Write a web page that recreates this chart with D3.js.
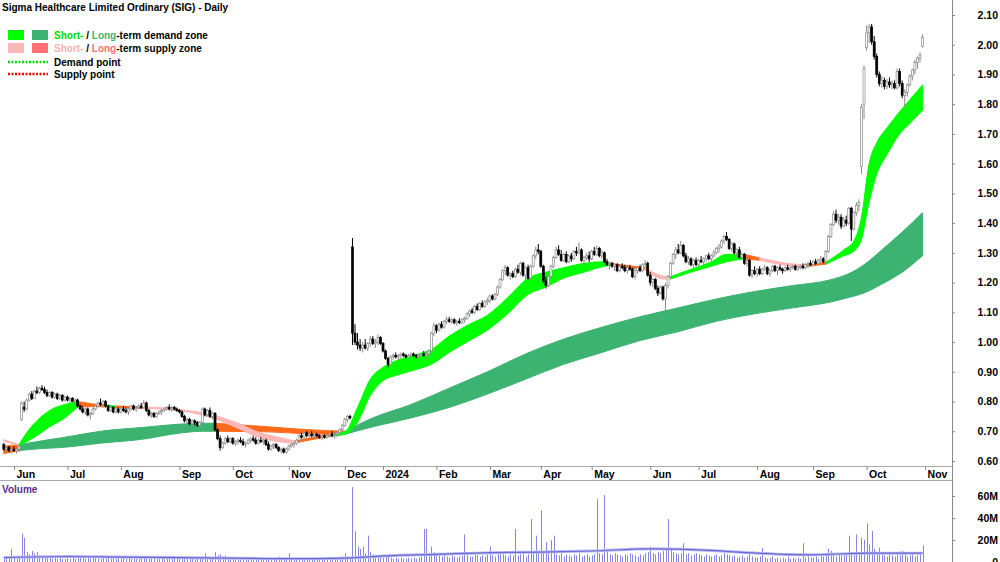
<!DOCTYPE html>
<html>
<head>
<meta charset="utf-8">
<script src="https://cdn.jsdelivr.net/npm/d3@7"></script>
<style>
  body { margin: 0; background: #fff; }
  svg { display: block; font-family: "Liberation Sans", Arial, sans-serif; }
</style>
</head>
<body>
<script>
// month ticks (trading-day index where each month starts)
const monthLabels = ["Jun", "Jul", "Aug", "Sep", "Oct", "Nov", "Dec", "2024", "Feb", "Mar", "Apr", "May", "Jun", "Jul", "Aug", "Sep", "Oct", "Nov"];
const monthStart = [4, 25, 46, 69, 90, 112, 134, 149, 170, 191, 211, 231, 254, 273, 296, 318, 339, 362];

const priceTicks = [0.6, 0.7, 0.8, 0.9, 1.0, 1.1, 1.2, 1.3, 1.4, 1.5, 1.6, 1.7, 1.8, 1.9, 2.0, 2.1];
const volumeTicks = [0, 20, 40, 60];

// daily candles [open, high, low, close]
const ohlc = [
  // May 2023
  [0.655,0.66,0.635,0.64],[0.64,0.65,0.63,0.645],[0.645,0.65,0.63,0.635],[0.635,0.645,0.625,0.64],
  // Jun
  [0.64,0.65,0.63,0.635],[0.635,0.645,0.625,0.64],[0.64,0.655,0.63,0.65],[0.74,0.80,0.735,0.795],[0.78,0.80,0.765,0.775],
  [0.775,0.81,0.77,0.805],[0.805,0.83,0.80,0.825],[0.825,0.835,0.805,0.81],[0.81,0.84,0.81,0.835],[0.835,0.85,0.825,0.83],
  [0.83,0.85,0.825,0.845],[0.845,0.855,0.835,0.84],[0.84,0.85,0.825,0.83],[0.83,0.84,0.815,0.82],[0.82,0.835,0.815,0.83],
  [0.83,0.835,0.81,0.815],[0.815,0.83,0.81,0.825],[0.825,0.83,0.805,0.81],[0.81,0.825,0.805,0.82],[0.82,0.825,0.80,0.805],
  [0.805,0.82,0.80,0.815],
  // Jul
  [0.815,0.82,0.80,0.805],[0.805,0.815,0.795,0.81],[0.81,0.815,0.80,0.80],[0.80,0.81,0.795,0.805],[0.805,0.81,0.78,0.785],
  [0.785,0.79,0.77,0.775],[0.775,0.785,0.76,0.765],[0.765,0.78,0.755,0.775],[0.775,0.78,0.75,0.755],[0.755,0.765,0.74,0.76],
  [0.76,0.78,0.755,0.775],[0.775,0.79,0.77,0.785],[0.785,0.80,0.78,0.795],[0.795,0.81,0.785,0.79],[0.79,0.805,0.78,0.80],
  [0.80,0.805,0.78,0.785],[0.785,0.79,0.765,0.77],[0.77,0.785,0.765,0.78],[0.78,0.785,0.76,0.765],[0.765,0.78,0.76,0.775],
  [0.775,0.78,0.76,0.765],
  // Aug
  [0.765,0.78,0.76,0.775],[0.775,0.785,0.765,0.77],[0.77,0.78,0.76,0.765],[0.765,0.78,0.755,0.775],[0.775,0.79,0.77,0.785],
  [0.785,0.79,0.77,0.775],[0.775,0.785,0.765,0.78],[0.78,0.79,0.775,0.785],[0.785,0.795,0.775,0.78],[0.78,0.805,0.775,0.795],
  [0.795,0.80,0.765,0.77],[0.77,0.775,0.75,0.755],[0.755,0.765,0.745,0.76],[0.76,0.765,0.745,0.75],[0.75,0.765,0.745,0.76],
  [0.76,0.77,0.755,0.765],[0.765,0.775,0.755,0.77],[0.77,0.78,0.765,0.775],[0.775,0.785,0.77,0.78],[0.78,0.79,0.77,0.775],
  [0.775,0.785,0.765,0.78],[0.78,0.785,0.77,0.775],[0.775,0.78,0.765,0.77],
  // Sep
  [0.77,0.775,0.76,0.765],[0.765,0.77,0.745,0.75],[0.75,0.755,0.73,0.735],[0.735,0.745,0.725,0.74],[0.74,0.745,0.72,0.725],
  [0.725,0.74,0.72,0.735],[0.735,0.74,0.72,0.73],[0.73,0.735,0.715,0.72],[0.72,0.735,0.715,0.73],[0.73,0.78,0.725,0.775],
  [0.775,0.78,0.75,0.755],[0.755,0.775,0.75,0.77],[0.77,0.78,0.745,0.75],[0.75,0.765,0.74,0.76],[0.76,0.765,0.70,0.705],
  [0.705,0.71,0.67,0.675],[0.675,0.685,0.635,0.645],[0.645,0.665,0.64,0.66],[0.66,0.68,0.655,0.675],[0.675,0.685,0.66,0.665],
  [0.665,0.68,0.66,0.675],
  // Oct
  [0.675,0.68,0.655,0.66],[0.66,0.67,0.65,0.665],[0.665,0.675,0.655,0.67],[0.67,0.68,0.66,0.665],[0.665,0.675,0.65,0.655],
  [0.655,0.665,0.645,0.66],[0.66,0.675,0.655,0.67],[0.67,0.68,0.66,0.675],[0.675,0.685,0.665,0.67],[0.67,0.68,0.655,0.66],
  [0.66,0.675,0.655,0.67],[0.67,0.68,0.66,0.665],[0.665,0.675,0.655,0.67],[0.67,0.675,0.65,0.655],[0.655,0.665,0.635,0.64],
  [0.64,0.655,0.635,0.65],[0.65,0.66,0.64,0.655],[0.655,0.66,0.64,0.645],[0.645,0.65,0.63,0.635],[0.635,0.645,0.625,0.64],
  [0.64,0.645,0.625,0.63],[0.63,0.645,0.625,0.64],
  // Nov
  [0.64,0.655,0.635,0.65],[0.65,0.66,0.645,0.655],[0.655,0.665,0.645,0.66],[0.66,0.675,0.655,0.67],[0.67,0.69,0.665,0.685],
  [0.685,0.695,0.675,0.68],[0.68,0.70,0.675,0.695],[0.695,0.70,0.68,0.685],[0.685,0.695,0.68,0.69],[0.69,0.70,0.68,0.685],
  [0.685,0.695,0.675,0.69],[0.69,0.695,0.68,0.685],[0.685,0.69,0.675,0.68],[0.68,0.69,0.67,0.685],[0.685,0.69,0.675,0.68],
  [0.68,0.69,0.675,0.685],[0.685,0.695,0.68,0.69],[0.69,0.70,0.68,0.685],[0.685,0.695,0.675,0.69],[0.69,0.70,0.68,0.695],
  [0.695,0.71,0.69,0.705],[0.705,0.725,0.70,0.72],
  // Dec
  [0.72,0.745,0.715,0.74],[0.74,0.755,0.73,0.75],[0.75,0.755,0.74,0.745],[1.32,1.35,0.99,1.03],[1.03,1.06,0.99,1.00],
  [1.00,1.03,0.975,0.99],[0.99,1.01,0.97,0.98],[0.98,1.00,0.965,0.99],[0.99,1.01,0.975,0.98],[0.98,1.00,0.97,0.995],
  [0.995,1.02,0.985,1.01],[1.01,1.02,0.99,0.995],[0.995,1.01,0.98,1.00],[1.00,1.025,0.99,1.015],[1.015,1.02,0.99,0.995],
  // Jan 2024
  [0.995,1.00,0.965,0.97],[0.97,0.975,0.94,0.945],[0.945,0.95,0.915,0.925],[0.925,0.955,0.92,0.95],[0.95,0.96,0.94,0.955],
  [0.955,0.965,0.945,0.95],[0.95,0.96,0.94,0.955],[0.955,0.965,0.945,0.96],[0.96,0.965,0.95,0.955],[0.955,0.96,0.945,0.95],
  [0.95,0.96,0.945,0.955],[0.955,0.965,0.95,0.96],[0.96,0.965,0.95,0.955],[0.955,0.96,0.945,0.95],[0.95,0.96,0.945,0.955],
  [0.955,0.965,0.95,0.96],[0.96,0.97,0.95,0.955],[0.955,0.965,0.945,0.96],[0.96,0.975,0.955,0.97],[0.97,1.035,0.965,1.03],
  [1.03,1.065,1.02,1.055],
  // Feb
  [1.055,1.06,1.03,1.04],[1.04,1.065,1.035,1.06],[1.06,1.07,1.045,1.05],[1.05,1.075,1.045,1.07],[1.07,1.085,1.06,1.075],
  [1.075,1.085,1.065,1.07],[1.07,1.08,1.06,1.075],[1.075,1.08,1.06,1.065],[1.065,1.075,1.055,1.07],[1.07,1.08,1.06,1.065],
  [1.065,1.08,1.06,1.075],[1.075,1.085,1.065,1.08],[1.08,1.10,1.075,1.095],[1.095,1.11,1.085,1.105],[1.105,1.115,1.095,1.10],
  [1.10,1.125,1.095,1.12],[1.12,1.13,1.105,1.11],[1.11,1.135,1.105,1.13],[1.13,1.14,1.115,1.12],[1.12,1.14,1.115,1.135],
  [1.135,1.15,1.125,1.14],
  // Mar
  [1.14,1.16,1.13,1.155],[1.155,1.16,1.14,1.145],[1.145,1.165,1.14,1.16],[1.16,1.19,1.155,1.185],[1.185,1.215,1.18,1.21],
  [1.21,1.245,1.205,1.24],[1.24,1.26,1.225,1.25],[1.25,1.255,1.22,1.225],[1.225,1.235,1.21,1.23],[1.23,1.24,1.215,1.22],
  [1.22,1.25,1.215,1.245],[1.245,1.26,1.23,1.235],[1.235,1.27,1.225,1.265],[1.265,1.27,1.22,1.225],[1.225,1.255,1.21,1.25],
  [1.25,1.26,1.21,1.215],[1.215,1.26,1.21,1.255],[1.255,1.295,1.25,1.29],[1.29,1.32,1.28,1.31],[1.31,1.33,1.295,1.305],
  // Apr
  [1.305,1.31,1.25,1.255],[1.255,1.26,1.20,1.205],[1.205,1.22,1.18,1.19],[1.19,1.225,1.185,1.22],[1.22,1.26,1.215,1.255],
  [1.255,1.29,1.25,1.285],[1.285,1.32,1.28,1.31],[1.31,1.325,1.29,1.295],[1.295,1.31,1.27,1.275],[1.275,1.30,1.27,1.295],
  [1.295,1.305,1.265,1.27],[1.27,1.295,1.265,1.29],[1.29,1.30,1.27,1.28],[1.28,1.31,1.275,1.305],[1.305,1.32,1.29,1.30],
  [1.30,1.335,1.295,1.31],[1.31,1.315,1.27,1.275],[1.275,1.29,1.26,1.285],[1.285,1.30,1.275,1.29],[1.29,1.305,1.27,1.28],
  // May
  [1.28,1.31,1.275,1.305],[1.305,1.32,1.29,1.295],[1.295,1.325,1.29,1.315],[1.315,1.32,1.285,1.29],[1.29,1.31,1.28,1.30],
  [1.30,1.305,1.265,1.27],[1.27,1.28,1.255,1.26],[1.26,1.27,1.245,1.265],[1.265,1.27,1.25,1.255],[1.255,1.265,1.24,1.26],
  [1.26,1.265,1.235,1.24],[1.24,1.26,1.235,1.255],[1.255,1.265,1.245,1.25],[1.25,1.26,1.235,1.24],[1.24,1.255,1.23,1.25],
  [1.25,1.26,1.24,1.245],[1.245,1.25,1.215,1.22],[1.22,1.245,1.21,1.24],[1.24,1.255,1.23,1.25],[1.25,1.26,1.235,1.24],
  [1.24,1.265,1.235,1.26],[1.26,1.275,1.25,1.265],[1.265,1.27,1.22,1.225],
  // Jun
  [1.225,1.235,1.19,1.20],[1.20,1.215,1.185,1.21],[1.21,1.215,1.175,1.18],[1.18,1.19,1.155,1.165],[1.165,1.19,1.16,1.185],
  [1.185,1.19,1.14,1.145],[1.145,1.20,1.085,1.19],[1.19,1.225,1.18,1.22],[1.22,1.27,1.215,1.265],[1.265,1.30,1.26,1.295],
  [1.295,1.32,1.28,1.31],[1.31,1.33,1.295,1.30],[1.30,1.34,1.295,1.325],[1.325,1.33,1.285,1.29],[1.29,1.30,1.265,1.27],
  [1.27,1.29,1.26,1.28],[1.28,1.285,1.255,1.26],[1.26,1.28,1.25,1.275],[1.275,1.285,1.255,1.26],
  // Jul
  [1.26,1.28,1.255,1.275],[1.275,1.29,1.265,1.27],[1.27,1.285,1.26,1.28],[1.28,1.295,1.27,1.29],[1.29,1.30,1.275,1.28],
  [1.28,1.295,1.27,1.29],[1.29,1.31,1.285,1.30],[1.30,1.32,1.295,1.315],[1.315,1.33,1.30,1.32],[1.32,1.345,1.315,1.34],
  [1.34,1.36,1.33,1.355],[1.355,1.37,1.34,1.345],[1.345,1.35,1.31,1.315],[1.315,1.335,1.305,1.33],[1.33,1.335,1.295,1.30],
  [1.30,1.315,1.285,1.31],[1.31,1.32,1.28,1.285],[1.285,1.30,1.275,1.295],[1.295,1.30,1.26,1.265],[1.265,1.28,1.255,1.275],
  [1.275,1.28,1.22,1.225],[1.225,1.245,1.215,1.24],[1.24,1.255,1.225,1.23],
  // Aug
  [1.23,1.25,1.22,1.245],[1.245,1.255,1.225,1.23],[1.23,1.25,1.225,1.245],[1.245,1.26,1.24,1.25],[1.25,1.255,1.225,1.23],
  [1.23,1.245,1.22,1.24],[1.24,1.26,1.235,1.255],[1.255,1.26,1.235,1.24],[1.24,1.255,1.225,1.25],[1.25,1.26,1.24,1.245],
  [1.245,1.25,1.23,1.24],[1.24,1.255,1.235,1.25],[1.25,1.26,1.24,1.245],[1.245,1.255,1.235,1.25],[1.25,1.26,1.245,1.255],
  [1.255,1.26,1.24,1.245],[1.245,1.255,1.24,1.25],[1.25,1.26,1.245,1.255],[1.255,1.265,1.245,1.25],[1.25,1.265,1.245,1.26],
  [1.26,1.27,1.25,1.265],[1.265,1.275,1.255,1.26],
  // Sep
  [1.26,1.275,1.255,1.27],[1.27,1.28,1.26,1.265],[1.265,1.28,1.26,1.275],[1.275,1.29,1.265,1.28],[1.28,1.285,1.265,1.27],
  [1.27,1.31,1.265,1.305],[1.305,1.36,1.30,1.355],[1.355,1.40,1.35,1.395],[1.395,1.44,1.39,1.43],[1.43,1.445,1.40,1.41],
  [1.41,1.43,1.395,1.42],[1.42,1.43,1.38,1.39],[1.39,1.42,1.385,1.41],[1.41,1.425,1.39,1.40],[1.40,1.455,1.395,1.45],
  [1.45,1.455,1.34,1.38],[1.38,1.44,1.375,1.435],[1.435,1.47,1.425,1.46],[1.46,1.48,1.44,1.47],[1.59,1.80,1.565,1.79],
  [1.80,1.93,1.75,1.92],
  // Oct
  [1.99,2.065,1.98,2.04],[2.04,2.07,2.005,2.06],[2.06,2.07,2.00,2.01],[2.01,2.03,1.95,1.96],[1.96,1.97,1.89,1.90],
  [1.90,1.91,1.86,1.87],[1.87,1.895,1.855,1.88],[1.88,1.89,1.85,1.86],[1.86,1.885,1.85,1.875],[1.875,1.89,1.855,1.865],
  [1.865,1.88,1.85,1.87],[1.87,1.88,1.85,1.855],[1.855,1.92,1.85,1.91],[1.91,1.92,1.86,1.87],[1.87,1.88,1.82,1.83],
  [1.83,1.85,1.79,1.84],[1.84,1.87,1.825,1.865],[1.865,1.90,1.86,1.895],[1.895,1.92,1.88,1.915],[1.915,1.95,1.90,1.94],
  [1.94,1.96,1.92,1.955],[1.955,1.975,1.94,1.965],[1.995,2.035,1.99,2.025]
];

// daily volume, millions
const volume = [
  3,4,3,12,
  4,3,5,26,22,9,7,10,8,9,6,5,4,5,4,3,4,3,4,3,3,
  4,3,5,3,4,5,4,3,4,3,5,4,3,3,4,3,5,3,4,3,3,
  3,4,3,5,3,4,3,3,4,5,4,3,3,4,3,3,4,3,3,4,3,3,4,
  3,4,3,4,3,3,4,3,4,5,8,5,4,4,9,6,7,5,6,4,3,
  3,3,2,3,3,2,3,3,2,3,3,2,3,3,4,3,3,3,5,3,3,4,
  8,3,3,2,3,3,2,3,3,2,3,3,2,3,2,3,3,2,3,3,4,5,
  8,5,4,68,28,14,12,14,8,24,9,7,6,5,4,
  4,5,6,4,3,4,3,4,3,3,4,3,4,3,4,5,30,30,7,14,9,
  7,6,5,6,5,4,6,5,4,5,6,25,6,5,5,7,6,5,6,5,7,
  14,6,5,7,8,7,6,5,7,6,30,6,7,8,5,7,39,10,24,8,
  47,10,18,8,20,24,7,6,8,5,7,6,5,7,6,8,5,6,7,5,
  6,7,57,8,7,61,12,7,6,8,7,6,5,7,6,8,7,6,5,7,6,8,9,
  14,8,7,9,8,10,11,39,13,9,8,7,8,17,7,8,6,7,8,
  7,6,5,7,6,5,6,7,5,6,8,7,6,5,6,4,5,6,4,5,7,5,4,
  4,5,13,4,3,4,5,3,4,3,4,3,5,3,4,3,4,3,17,4,5,4,
  4,5,3,6,5,7,12,10,6,5,7,6,8,7,24,9,7,25,8,22,20,
  35,16,28,12,9,13,7,6,5,7,6,5,9,6,10,7,5,6,7,5,6,7,15
];

// volume average line
const volAvgDay = [0, 25, 46, 69, 90, 112, 134, 149, 170, 191, 211, 231, 254, 273, 296, 318, 339, 361];
const volAvg = [4, 5, 4.5, 4, 3.5, 3, 3.5, 5.5, 7, 8.5, 9, 10, 12, 11, 8, 6.5, 8, 8];

// long-term zone
const ltDay = [0, 6, 15, 22, 38, 56, 66, 78, 83, 104, 118, 134, 145, 160, 175, 190, 205, 220, 235, 250, 265, 280, 295, 310, 325, 332, 338, 345, 353, 361];
const ltTop = [0.65, 0.655, 0.668, 0.677, 0.70, 0.714, 0.722, 0.727, 0.727, 0.715, 0.706, 0.70, 0.745, 0.79, 0.845, 0.90, 0.96, 1.01, 1.05, 1.085, 1.115, 1.145, 1.17, 1.19, 1.21, 1.23, 1.26, 1.31, 1.37, 1.435];
const ltBot = [0.625, 0.635, 0.642, 0.645, 0.66, 0.675, 0.69, 0.70, 0.70, 0.698, 0.692, 0.69, 0.715, 0.745, 0.78, 0.825, 0.875, 0.925, 0.965, 1.005, 1.035, 1.07, 1.095, 1.115, 1.135, 1.15, 1.165, 1.195, 1.235, 1.29];
const ltState = ["ls","ld","ld","ld","ld","ld","ld","ld","ls","ls","ls","ld","ld","ld","ld","ld","ld","ld","ld","ld","ld","ld","ld","ld","ld","ld","ld","ld","ld","ld"];

// short-term zone
const stDay = [0, 6, 9, 13, 18, 24, 29, 35, 40, 44, 54, 64, 70, 82, 92, 100, 108, 113, 115, 125, 129, 134, 139, 144, 149, 155, 163, 168, 175, 183, 190, 198, 206, 213, 220, 228, 236, 238, 252, 259, 262, 270, 278, 284, 291, 297, 311, 315, 323, 330, 334, 337, 340, 343, 347, 352, 356, 361];
const stTop = [0.672, 0.655, 0.695, 0.735, 0.77, 0.79, 0.80, 0.792, 0.787, 0.785, 0.782, 0.778, 0.772, 0.755, 0.727, 0.697, 0.68, 0.67, 0.668, 0.685, 0.69, 0.698, 0.78, 0.875, 0.915, 0.94, 0.96, 0.975, 1.02, 1.06, 1.09, 1.15, 1.215, 1.235, 1.25, 1.265, 1.27, 1.265, 1.25, 1.222, 1.22, 1.245, 1.27, 1.295, 1.295, 1.283, 1.262, 1.26, 1.268, 1.31, 1.34, 1.42, 1.60, 1.67, 1.72, 1.775, 1.815, 1.865];
const stBot = [0.666, 0.652, 0.665, 0.685, 0.715, 0.745, 0.782, 0.783, 0.782, 0.78, 0.777, 0.774, 0.768, 0.745, 0.71, 0.68, 0.665, 0.66, 0.662, 0.678, 0.684, 0.69, 0.73, 0.82, 0.87, 0.89, 0.91, 0.925, 0.965, 1.005, 1.04, 1.095, 1.16, 1.185, 1.215, 1.235, 1.255, 1.258, 1.243, 1.212, 1.212, 1.235, 1.255, 1.27, 1.28, 1.275, 1.255, 1.254, 1.262, 1.29, 1.305, 1.345, 1.47, 1.565, 1.63, 1.70, 1.735, 1.78];
const stState = ["ss","sd","sd","sd","sd","sd","ls","ls","sd","ls","ss","ss","ss","ss","ss","ss","ss","ss","ls","ls",
  "sd","sd","sd","sd","sd","sd","sd","sd","sd","sd","sd","sd","sd","sd","sd","sd","sd","ls","ss","ss",
  "sd","sd","sd","sd","ls","ss","ss","ls","sd","sd","sd","sd","sd","sd","sd","sd","sd","sd"];

const zoneColor = { sd: "#00ff00", ld: "#3cb371", ss: "#ffb6b6", ls: "#ff6a1a" };

const width = 1000;
const height = 562;
const axisX = 952;
const priceBottom = 466;

const svg = d3.select("body").append("svg")
    .attr("width", width)
    .attr("height", height);

const x = d3.scaleLinear().domain([0, 362]).range([3.8, 925.1]);
const y = d3.scaleLinear().domain([0.6, 2.1]).range([461, 15]);
const yv = d3.scaleLinear().domain([0, 60]).range([562, 496]);

const g = svg.append("g");

function drawZone(days, tops, bots, states) {
    const pts = days.map((d, i) => ({ day: d, top: tops[i], bot: bots[i] }));
    const area = d3.area()
        .x(d => x(d.day))
        .y0(d => y(d.bot))
        .y1(d => y(d.top))
        .curve(d3.curveMonotoneX);
    let start = 0;
    for (let k = 1; k < pts.length; k++) {
        if (k === pts.length - 1 || states[k] !== states[start]) {
            const col = zoneColor[states[start]];
            g.append("path")
                .attr("d", area(pts.slice(start, k + 1)))
                .attr("fill", col)
                .attr("stroke", col)
                .attr("stroke-width", 1);
            start = k;
        }
    }
}

drawZone(ltDay, ltTop, ltBot, ltState);
drawZone(stDay, stTop, stBot, stState);

// candles
const candles = ohlc.map((d, i) => ({ i: i, o: d[0], h: d[1], l: d[2], c: d[3] }));

g.selectAll(".wick")
    .data(candles)
    .enter()
    .append("line")
    .attr("class", "wick")
    .attr("x1", d => x(d.i))
    .attr("x2", d => x(d.i))
    .attr("y1", d => y(d.h))
    .attr("y2", d => y(d.l))
    .attr("stroke", d => d.c >= d.o ? "#8a8a8a" : "#000")
    .attr("stroke-width", 1);

g.selectAll(".body")
    .data(candles)
    .enter()
    .append("rect")
    .attr("class", "body")
    .attr("x", d => x(d.i) - 1)
    .attr("width", 2)
    .attr("y", d => y(Math.max(d.o, d.c)))
    .attr("height", d => Math.max(1, Math.abs(y(d.o) - y(d.c))))
    .attr("fill", d => d.c >= d.o ? "#fff" : "#000")
    .attr("stroke", d => d.c >= d.o ? "#8a8a8a" : "#000")
    .attr("stroke-width", 0.7);

// volume bars
g.selectAll(".vol")
    .data(volume)
    .enter()
    .append("line")
    .attr("class", "vol")
    .attr("x1", (d, i) => Math.round(x(i)) + 0.5)
    .attr("x2", (d, i) => Math.round(x(i)) + 0.5)
    .attr("y1", yv(0))
    .attr("y2", d => yv(d))
    .attr("stroke", "#8585e6")
    .attr("stroke-width", 1);

g.append("path")
    .datum(volAvgDay.map((d, i) => [d, volAvg[i]]))
    .attr("fill", "none")
    .attr("stroke", "#b9b9f2")
    .attr("stroke-width", 3)
    .attr("d", d3.line().x(d => x(d[0])).y(d => yv(d[1])).curve(d3.curveMonotoneX));

g.append("path")
    .datum(volAvgDay.map((d, i) => [d, volAvg[i]]))
    .attr("fill", "none")
    .attr("stroke", "#6b6bd6")
    .attr("stroke-width", 1.2)
    .attr("d", d3.line().x(d => x(d[0])).y(d => yv(d[1])).curve(d3.curveMonotoneX));

// frame lines
svg.append("line").attr("x1", axisX + 0.5).attr("x2", axisX + 0.5).attr("y1", 0).attr("y2", height)
    .attr("stroke", "#888");
svg.append("line").attr("x1", 0).attr("x2", axisX).attr("y1", priceBottom + 0.5).attr("y2", priceBottom + 0.5)
    .attr("stroke", "#aaa");
svg.append("line").attr("x1", 0).attr("x2", axisX).attr("y1", 480.5).attr("y2", 480.5)
    .attr("stroke", "#aaa");

// price axis
const yAxis = svg.append("g")
    .attr("transform", `translate(${axisX},0)`)
    .call(d3.axisRight(y).tickValues(priceTicks).tickFormat(d3.format(".2f")).tickSize(3).tickSizeOuter(0));
yAxis.select(".domain").remove();
yAxis.selectAll("line").attr("stroke", "#888");
yAxis.selectAll("text")
    .attr("x", 46)
    .attr("text-anchor", "end")
    .attr("font-size", "10.5px")
    .attr("font-weight", "bold")
    .attr("font-family", "Liberation Sans, Arial, sans-serif")
    .attr("fill", "#000");

// volume axis
const vAxis = svg.append("g")
    .attr("transform", `translate(${axisX},0)`)
    .call(d3.axisRight(yv).tickValues(volumeTicks).tickFormat(d => d === 0 ? "0" : d + "M").tickSize(3).tickSizeOuter(0));
vAxis.select(".domain").remove();
vAxis.selectAll("line").attr("stroke", "#888");
vAxis.selectAll("text")
    .attr("x", 46)
    .attr("text-anchor", "end")
    .attr("font-size", "10.5px")
    .attr("font-weight", "bold")
    .attr("font-family", "Liberation Sans, Arial, sans-serif")
    .attr("fill", "#000");

// month axis
const xAxis = svg.append("g")
    .attr("transform", `translate(0,${priceBottom})`)
    .call(d3.axisBottom(x).tickValues(monthStart).tickSize(4).tickSizeOuter(0).tickFormat((d, i) => monthLabels[i]));
xAxis.select(".domain").remove();
xAxis.selectAll("line").attr("stroke", "#888");
xAxis.selectAll("text")
    .attr("x", 2)
    .attr("y", 11.5)
    .attr("dy", null)
    .attr("text-anchor", "start")
    .attr("font-size", "10.5px")
    .attr("font-weight", "bold")
    .attr("font-family", "Liberation Sans, Arial, sans-serif")
    .attr("fill", "#000");

// title and legend
const labelFont = { size: "10px", weight: "bold" };

svg.append("text")
    .attr("x", 2)
    .attr("y", 11)
    .attr("font-size", labelFont.size)
    .attr("font-weight", labelFont.weight)
    .text("Sigma Healthcare Limited Ordinary (SIG) - Daily");

const legend = svg.append("g");
legend.append("rect").attr("x", 8).attr("y", 30).attr("width", 16).attr("height", 10).attr("fill", "#00ff00");
legend.append("rect").attr("x", 32).attr("y", 30).attr("width", 16).attr("height", 10).attr("fill", "#3cb371");
legend.append("rect").attr("x", 8).attr("y", 43).attr("width", 16).attr("height", 10).attr("fill", "#ffb6b6");
legend.append("rect").attr("x", 32).attr("y", 43).attr("width", 16).attr("height", 10).attr("fill", "#ff7070");
legend.append("line").attr("x1", 8).attr("x2", 48).attr("y1", 62).attr("y2", 62)
    .attr("stroke", "#00dd00").attr("stroke-width", 2.5).attr("stroke-dasharray", "2,1.5");
legend.append("line").attr("x1", 8).attr("x2", 48).attr("y1", 74).attr("y2", 74)
    .attr("stroke", "#ff0000").attr("stroke-width", 2.5).attr("stroke-dasharray", "2,1.5");

const legendRows = [
    { y: 39, parts: [["Short-", "#00e000"], [" / ", "#000"], ["Long", "#3cb371"], ["-term demand zone", "#000"]] },
    { y: 52, parts: [["Short-", "#ffb0b0"], [" / ", "#000"], ["Long", "#ff7070"], ["-term supply zone", "#000"]] },
    { y: 65.5, parts: [["Demand point", "#000"]] },
    { y: 77.5, parts: [["Supply point", "#000"]] }
];

legendRows.forEach(row => {
    const t = legend.append("text")
        .attr("x", 54)
        .attr("y", row.y)
        .attr("font-size", labelFont.size)
        .attr("font-weight", labelFont.weight)
        .style("white-space", "pre");
    row.parts.forEach(p => t.append("tspan").attr("fill", p[1]).text(p[0]));
});

svg.append("text")
    .attr("x", 2)
    .attr("y", 493)
    .attr("font-size", labelFont.size)
    .attr("font-weight", labelFont.weight)
    .attr("fill", "#5b2d91")
    .text("Volume");
</script>
</body>
</html>
